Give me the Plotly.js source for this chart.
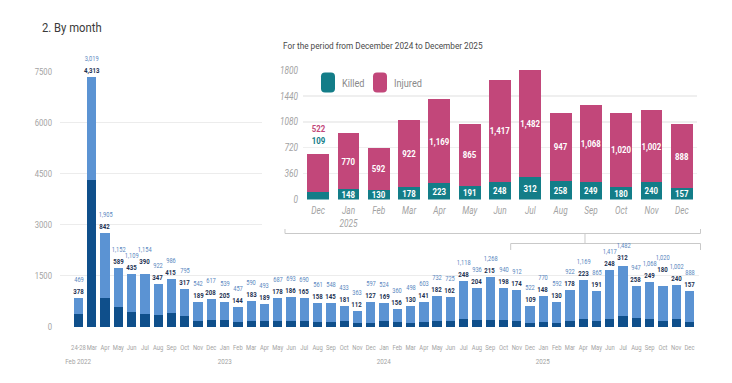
<!DOCTYPE html>
<html><head><meta charset="utf-8">
<script src="https://cdn.plot.ly/plotly-3.0.1.min.js"></script>
<style>html,body{margin:0;padding:0;background:#fff}#chart{width:732px;height:383px}</style>
</head><body><div id="chart"></div>
<script>
// ---- data ----
const periods = ["Feb 2022","Mar 2022","Apr 2022","May 2022","Jun 2022","Jul 2022","Aug 2022","Sep 2022","Oct 2022","Nov 2022","Dec 2022",
 "Jan 2023","Feb 2023","Mar 2023","Apr 2023","May 2023","Jun 2023","Jul 2023","Aug 2023","Sep 2023","Oct 2023","Nov 2023","Dec 2023",
 "Jan 2024","Feb 2024","Mar 2024","Apr 2024","May 2024","Jun 2024","Jul 2024","Aug 2024","Sep 2024","Oct 2024","Nov 2024","Dec 2024",
 "Jan 2025","Feb 2025","Mar 2025","Apr 2025","May 2025","Jun 2025","Jul 2025","Aug 2025","Sep 2025","Oct 2025","Nov 2025","Dec 2025"];
const monthLabels = ["24-28","Mar","Apr","May","Jun","Jul","Aug","Sep","Oct","Nov","Dec",
 "Jan","Feb","Mar","Apr","May","Jun","Jul","Aug","Sep","Oct","Nov","Dec",
 "Jan","Feb","Mar","Apr","May","Jun","Jul","Aug","Sep","Oct","Nov","Dec",
 "Jan","Feb","Mar","Apr","May","Jun","Jul","Aug","Sep","Oct","Nov","Dec"];
const yearLabels = {"Feb 2022":"Feb 2022","Jan 2023":"2023","Jan 2024":"2024","Jan 2025":"2025"};
const killed = [378,4313,842,589,435,390,347,415,317,189,208,
 205,144,183,189,178,186,165,158,145,181,112,127,
 169,156,130,141,182,162,248,204,215,198,174,109,
 148,130,178,223,191,248,312,258,249,180,240,157];
const injured = [469,3019,1905,1152,1109,1154,922,986,795,542,617,
 539,457,590,493,687,693,690,561,548,433,363,597,
 524,360,498,603,732,725,1118,936,1268,940,912,522,
 770,592,922,1169,865,1417,1482,947,1068,1020,1002,888];
const mainTicks = [0,1500,3000,4500,6000,7500];
const insetStart = "Dec 2024";
const insetLabels = ["Dec","Jan<br>2025","Feb","Mar","Apr","May","Jun","Jul","Aug","Sep","Oct","Nov","Dec"];
const insetTicks = [0,360,720,1080,1440,1800];
const title = "2. By month";
const subtitle = "For the period from December 2024 to December 2025";
const seriesNames = ["Killed","Injured"];

// ---- style ----
const FAM = 'Roboto, sans-serif';
const CF = 0.8;          // horizontal condensing of the (condensed-looking) text
const W=732,H=383;
const px=x=>x/W, py=y=>1-y/H;
const fmt=v=>v.toLocaleString('en-US');
const C_DARK='#0f4f8b', C_LIGHT='#5b93d3', C_TEAL='#137d88', C_MAG='#c2477a';
const GRAY='#a3a3a3';
const SZ_K=7.6, SZ_I=7.1;

const iStart = periods.indexOf(insetStart);
const insetPeriods = periods.slice(iStart);
const insetKilled = killed.slice(iStart);
const insetInjured = injured.slice(iStart);

// main plot geometry (pixels)
const MX0=60, MX1=698.5, MY0=327, MY1=71.7, MYMAX=7500;
const xPx = i => MX0 + (i+0.5)*(MX1-MX0)/periods.length;
const yPx = v => MY0 - v*(MY0-MY1)/MYMAX;

const meas = document.createElement('canvas').getContext('2d');
function textW(t, size, bold){ meas.font=(bold?'700 ':'400 ')+size+'px Roboto'; return meas.measureText(t).width*CF; }

const traces = [
  {type:'bar', x:periods, y:killed, name:seriesNames[0], marker:{color:C_DARK}, width:0.7, xaxis:'x', yaxis:'y', hoverinfo:'skip'},
  {type:'bar', x:periods, y:injured, name:seriesNames[1], marker:{color:C_LIGHT}, width:0.7, xaxis:'x', yaxis:'y', hoverinfo:'skip'},
  // cover panel (white background behind inset)
  {type:'scatter', x:[0], y:[0], mode:'markers', marker:{opacity:0}, xaxis:'x2', yaxis:'y2', hoverinfo:'skip', showlegend:false},
  {type:'bar', x:insetPeriods, y:insetKilled, name:seriesNames[0], marker:{color:C_TEAL}, width:0.72, xaxis:'x3', yaxis:'y3',
   text:insetKilled.map(fmt), textposition:insetKilled.map((v,i)=>i===0?'none':'inside'), insidetextanchor:'middle', textangle:0,
   constraintext:'none', textfont:{family:FAM, size:9.8, color:'#fff', weight:700}, hoverinfo:'skip'},
  {type:'bar', x:insetPeriods, y:insetInjured, name:seriesNames[1], marker:{color:C_MAG}, width:0.72, xaxis:'x3', yaxis:'y3',
   text:insetInjured.map(fmt), textposition:insetInjured.map((v,i)=>i===0?'none':'inside'), insidetextanchor:'middle', textangle:0,
   constraintext:'none', textfont:{family:FAM, size:9.8, color:'#fff', weight:700}, hoverinfo:'skip'}
];

// ---- value labels above the main bars, nudged up when they collide ----
const annotations = [];
const placed = [];
const LH = 6.6;
periods.forEach((p,i)=>{
  const tot = killed[i]+injured[i];
  const top = yPx(tot), cx = xPx(i);
  const kt = fmt(killed[i]), it = fmt(injured[i]);
  const labs = [{cx, cy:top-6.5, w:textW(kt,SZ_K,true)}, {cx, cy:top-18.5, w:textW(it,SZ_I,false)}];
  let shift=0, moved=true, guard=0;
  while (moved && guard++<20) {
    moved=false;
    for (const b of placed) {
      for (const L of labs) {
        const cy=L.cy-shift;
        if (Math.abs(L.cx-b.cx) < (L.w+b.w)/2+0.6 && Math.abs(cy-b.cy) < LH) {
          shift += LH-(b.cy-cy); moved=true;
        }
      }
    }
  }
  labs.forEach(L=>{ L.cy-=shift; placed.push(L); });
  annotations.push({xref:'x', yref:'y', x:p, y:tot, text:kt, showarrow:false, yanchor:'middle', yshift:top-labs[0].cy,
    font:{family:FAM, size:SZ_K, color:'#1c3153', weight:700}});
  annotations.push({xref:'x', yref:'y', x:p, y:tot, text:it, showarrow:false, yanchor:'middle', yshift:top-labs[1].cy,
    font:{family:FAM, size:SZ_I, color:'#5a87c0'}});
  if (yearLabels[p]) {
    annotations.push({xref:'x', yref:'paper', x:p, y:py(361), text:yearLabels[p], showarrow:false, yanchor:'middle',
      font:{family:FAM, size:7.8, color:GRAY}});
  }
});
// inset first bar labels above the bar
annotations.push({xref:'x3', yref:'y3', x:insetPeriods[0], y:insetKilled[0]+insetInjured[0], text:fmt(insetKilled[0]), showarrow:false,
  yanchor:'middle', yshift:14, font:{family:FAM, size:9.8, color:C_TEAL, weight:700}});
annotations.push({xref:'x3', yref:'y3', x:insetPeriods[0], y:insetKilled[0]+insetInjured[0], text:fmt(insetInjured[0]), showarrow:false,
  yanchor:'middle', yshift:26, font:{family:FAM, size:9.8, color:C_MAG, weight:700}});
// titles
annotations.push({xref:'paper', yref:'paper', x:px(40), y:py(27), xanchor:'left', yanchor:'middle', align:'left', showarrow:false, text:title,
  font:{family:FAM, size:12.8, color:'#3a3a3a'}});
annotations.push({xref:'paper', yref:'paper', x:px(281), y:py(45), xanchor:'left', yanchor:'middle', align:'left', showarrow:false, text:subtitle,
  font:{family:FAM, size:9.8, color:'#4a4a4a'}});
// legend texts
annotations.push({xref:'paper', yref:'paper', x:px(340), y:py(82.5), xanchor:'left', yanchor:'middle', align:'left', showarrow:false, text:seriesNames[0],
  font:{family:FAM, size:11.5, color:'#8a8a8a'}});
annotations.push({xref:'paper', yref:'paper', x:px(392), y:py(82.5), xanchor:'left', yanchor:'middle', align:'left', showarrow:false, text:seriesNames[1],
  font:{family:FAM, size:11.5, color:'#8a8a8a'}});

function roundRect(x0,y0,x1,y1,r){
  const X=v=>px(v).toFixed(5), Y=v=>py(v).toFixed(5);
  return `M${X(x0+r)},${Y(y0)} L${X(x1-r)},${Y(y0)} Q${X(x1)},${Y(y0)} ${X(x1)},${Y(y0+r)} L${X(x1)},${Y(y1-r)} Q${X(x1)},${Y(y1)} ${X(x1-r)},${Y(y1)} L${X(x0+r)},${Y(y1)} Q${X(x0)},${Y(y1)} ${X(x0)},${Y(y1-r)} L${X(x0)},${Y(y0+r)} Q${X(x0)},${Y(y0)} ${X(x0+r)},${Y(y0)} Z`;
}
function pline(pts){
  return 'M'+pts.map(p=>px(p[0]).toFixed(5)+','+py(p[1]).toFixed(5)).join(' L');
}
const LC='#c9c9c9';
const shapes = [
  {type:'path', xref:'paper', yref:'paper', path:roundRect(321,72.5,335,92.5,4), fillcolor:C_TEAL, line:{width:0}},
  {type:'path', xref:'paper', yref:'paper', path:roundRect(373,72.5,387,92.5,4), fillcolor:C_MAG, line:{width:0}},
  {type:'path', xref:'paper', yref:'paper', path:pline([[285,229],[285,233.5],[700.5,233.5],[700.5,229]]), line:{color:LC,width:1}},
  {type:'path', xref:'paper', yref:'paper', path:pline([[585,233.5],[585,243.5]]), line:{color:LC,width:1}},
  {type:'path', xref:'paper', yref:'paper', path:pline([[510.7,250],[510.7,243.5],[700.5,243.5],[700.5,250]]), line:{color:LC,width:1}}
];

const layout = {
  width:W, height:H, margin:{l:0,r:0,t:0,b:0}, paper_bgcolor:'#fff', plot_bgcolor:'#fff',
  barmode:'stack', showlegend:false, font:{family:FAM, color:GRAY},
  xaxis:{domain:[px(MX0),px(MX1)], anchor:'y', type:'category', tickmode:'array', tickvals:periods, ticktext:monthLabels,
    tickangle:0, showgrid:false, zeroline:false, showline:false, ticks:'', ticklabelstandoff:14,
    tickfont:{family:FAM, size:7.7, color:GRAY}, fixedrange:true},
  yaxis:{domain:[py(MY0),py(MY1)], anchor:'x', range:[0,MYMAX], tickmode:'array', tickvals:mainTicks, ticktext:mainTicks.map(String),
    showgrid:true, gridcolor:'#ececec', gridwidth:1, zeroline:false, showline:false, ticks:'', ticklabelstandoff:7,
    tickfont:{family:FAM, size:9.6, color:GRAY}, fixedrange:true},
  xaxis2:{domain:[px(262),1], anchor:'y2', visible:false, range:[0,1], fixedrange:true},
  yaxis2:{domain:[py(251),py(26)], anchor:'x2', visible:false, range:[0,1], fixedrange:true},
  xaxis3:{domain:[px(303),px(697)], anchor:'y3', type:'category', tickmode:'array', tickvals:insetPeriods, ticktext:insetLabels,
    tickangle:0, showgrid:false, zeroline:false, showline:false, ticks:'', ticklabelstandoff:3,
    tickfont:{family:FAM, size:10.3, color:GRAY, style:'italic'}, fixedrange:true},
  yaxis3:{domain:[py(199.5),py(70)], anchor:'x3', range:[0,1800], tickmode:'array', tickvals:insetTicks, ticktext:insetTicks.map(String),
    showgrid:true, gridcolor:'#efefef', gridwidth:1.5, zeroline:false, showline:false, ticks:'', ticklabelstandoff:4,
    tickfont:{family:FAM, size:10.3, color:GRAY, style:'italic'}, fixedrange:true},
  annotations, shapes
};

function condense(gd){
  gd.querySelectorAll('svg text').forEach(t=>{
    let f = CF;
    if (t.textContent===title) f = 0.88;
    else if (t.textContent===subtitle) f = 0.84;
    else if (t.closest('.xtick') && t.closest('.xaxislayer-above') && !t.closest('.x3tick')) f = 0.76;
    const lines = t.querySelectorAll('tspan.line');
    const targets = lines.length ? Array.from(lines) : [t];
    targets.forEach(el=>{
      const w = el.getComputedTextLength();
      if (w>0) { el.setAttribute('textLength', (w*f).toFixed(2)); el.setAttribute('lengthAdjust','spacingAndGlyphs'); }
    });
  });
}
Plotly.newPlot('chart', traces, layout, {displayModeBar:false, staticPlot:true}).then(condense);
</script></body></html>
